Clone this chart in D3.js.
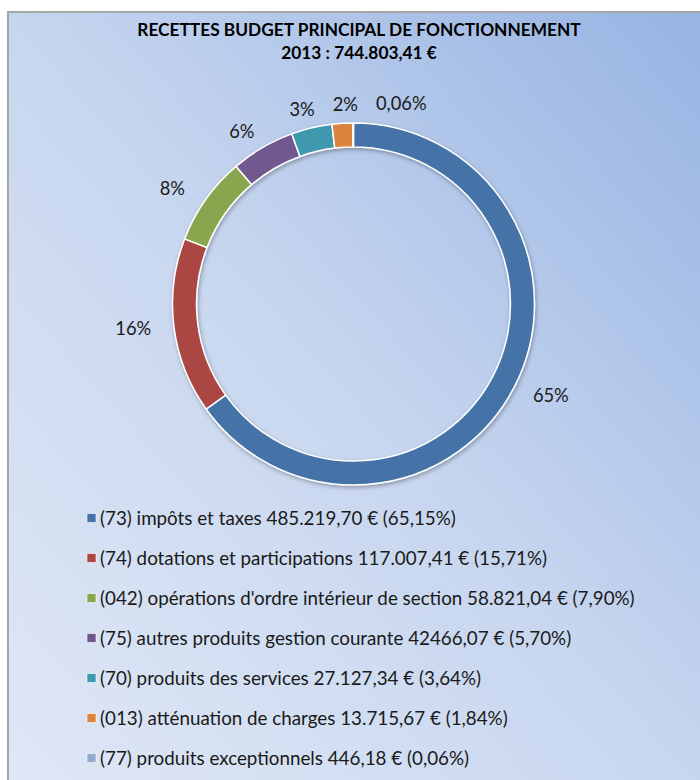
<!DOCTYPE html>
<html><head><meta charset="utf-8">
<script src="https://cdn.jsdelivr.net/npm/d3@7"></script>
<style>html,body{margin:0;padding:0;background:#fff;}svg{display:block;}</style>
</head><body>
<script>
const categories = [
  "(73) impôts et taxes 485.219,70 € (65,15%)",
  "(74) dotations et participations 117.007,41 € (15,71%)",
  "(042) opérations d'ordre intérieur de section 58.821,04 € (7,90%)",
  "(75) autres produits gestion courante 42466,07 € (5,70%)",
  "(70) produits des services 27.127,34 € (3,64%)",
  "(013) atténuation de charges 13.715,67 € (1,84%)",
  "(77) produits exceptionnels 446,18 € (0,06%)"
];
const values = [485219.70, 117007.41, 58821.04, 42466.07, 27127.34, 13715.67, 446.18];
const pctLabels = ["65%", "16%", "8%", "6%", "3%", "2%", "0,06%"];
const colors = ["#4572A7", "#AA4643", "#89A54E", "#71588F", "#4198AF", "#DB843D", "#93A9CF"];
const titleLines = ["RECETTES BUDGET PRINCIPAL DE FONCTIONNEMENT", "2013 : 744.803,41 €"];

const W = 700, H = 780;
const FONT = "Lato, 'Open Sans', sans-serif";
const svg = d3.select("body").append("svg").attr("width", W).attr("height", H);
const defs = svg.append("defs");
const grad = defs.append("linearGradient").attr("id", "bg")
  .attr("x1", 0).attr("y1", 1).attr("x2", 1).attr("y2", 0);
grad.append("stop").attr("offset", "0%").attr("stop-color", "#e0e8f6");
grad.append("stop").attr("offset", "50%").attr("stop-color", "#c7d6ef");
grad.append("stop").attr("offset", "100%").attr("stop-color", "#94b2e2");
const sh = defs.append("filter").attr("id", "shadow").attr("x", "-20%").attr("y", "-20%").attr("width", "140%").attr("height", "140%");
sh.append("feDropShadow").attr("dx", 1).attr("dy", 2).attr("stdDeviation", 2).attr("flood-color", "#000").attr("flood-opacity", 0.3);

svg.append("rect").attr("x", 8).attr("y", 12).attr("width", W + 20).attr("height", H + 20)
  .attr("fill", "url(#bg)").attr("stroke", "#a6a6a6").attr("stroke-width", 2);

// Title
svg.append("g").selectAll("text").data(titleLines).join("text")
  .attr("x", 359).attr("y", (d, i) => 36 + i * 23)
  .attr("text-anchor", "middle").attr("font-family", FONT).attr("font-weight", "bold")
  .attr("font-size", 17.3).attr("fill", "#000").text(d => d);

// Donut
const cx = 353.5, cy = 304, rOuter = 181, rInner = 157;
const pie = d3.pie().sort(null).value(d => d);
const arcs = pie(values);
const arc = d3.arc().innerRadius(rInner).outerRadius(rOuter);
const g = svg.append("g").attr("transform", `translate(${cx},${cy})`);
g.append("g").attr("filter", "url(#shadow)").selectAll("path").data(arcs).join("path")
  .attr("d", arc).attr("fill", (d, i) => colors[i])
  .attr("stroke", "#fff").attr("stroke-width", 1.5).attr("stroke-linejoin", "round");

// Labels (outside, on an ellipse, with simple collision avoidance)
const lrx = 222, lry = 200;
const lbl = g.append("g").selectAll("text").data(arcs).join("text")
  .attr("font-family", FONT).attr("font-size", 18.3).attr("fill", "#1a1a1a")
  .attr("text-anchor", "middle").attr("dy", "0.35em")
  .text((d, i) => pctLabels[i]);
const boxes = [];
lbl.each(function(d, i) {
  const a = (d.startAngle + d.endAngle) / 2;
  let x = Math.sin(a) * lrx, y = -Math.cos(a) * lry;
  const w = this.getComputedTextLength();
  if (i > 0) {
    const p = boxes[i - 1];
    if (Math.abs(y - p.y) < 16 && x - w / 2 < p.x + p.w / 2 + 18) {
      x = p.x + p.w / 2 + 18 + w / 2;
    }
  }
  boxes.push({x, y, w});
  d3.select(this).attr("x", x).attr("y", y);
});

// Legend
const lg = svg.append("g").attr("transform", "translate(87,0)");
const rows = lg.selectAll("g").data(categories).join("g")
  .attr("transform", (d, i) => `translate(0,${518 + i * 40})`);
rows.append("rect").attr("x", 0).attr("y", -4.5).attr("width", 9).attr("height", 9)
  .attr("fill", (d, i) => colors[i]).attr("stroke", "#ffffff").attr("stroke-opacity", 0.6).attr("stroke-width", 1);
rows.append("text").attr("x", 13).attr("dy", "0.35em")
  .attr("font-family", FONT).attr("font-size", 18.8).attr("fill", "#1a1a1a").text(d => d);
</script>
</body></html>
